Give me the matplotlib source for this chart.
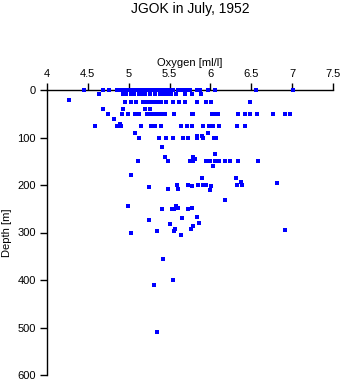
import matplotlib
matplotlib.use("Agg")
import matplotlib.pyplot as plt

## Oxygen profile values, grouped by depth
depth_0 = [4.45, 4.69, 4.76, 4.86, 4.90, 4.93, 4.96, 4.99, 5.00, 5.03, 5.06, 5.10,
           5.14, 5.17, 5.20, 5.23, 5.26, 5.30, 5.33, 5.36, 5.40, 5.43, 5.46, 5.50,
           5.54, 5.60, 5.65, 5.70, 5.75, 5.83, 5.87, 5.97, 6.05, 6.56, 7.01]
depth_9 = [4.64, 4.93, 4.97, 5.03, 5.07, 5.13, 5.15, 5.20, 5.26, 5.32, 5.38, 5.43,
           5.48, 5.52, 5.58, 5.69, 5.77, 5.89]
depth_26 = [4.96, 5.03, 5.09, 5.18, 5.22, 5.26, 5.30, 5.35, 5.40, 5.46, 5.54, 5.62,
            5.69, 5.83, 5.95, 6.01, 6.48]
depth_50 = [4.75, 4.92, 4.99, 5.08, 5.13, 5.22, 5.27, 5.32, 5.37, 5.40, 5.44, 5.56,
            5.77, 5.79, 6.02, 6.07, 6.09, 6.34, 6.42, 6.49, 6.57, 6.77, 6.91, 6.97]
depth_76 = [4.59, 4.86, 4.91, 5.15, 5.27, 5.32, 5.39, 5.64, 5.71, 5.77, 5.91, 5.98,
            6.03, 6.11, 6.32, 6.42]
depth_102 = [5.12, 5.37, 5.46, 5.54, 5.66, 5.73, 5.83, 5.91, 6.04, 6.07]
depth_150 = [5.11, 5.48, 5.75, 5.79, 5.94, 5.99, 6.05, 6.11, 6.18, 6.24, 6.34, 6.58]
depth_200 = [5.59, 5.73, 5.91, 6.33, 6.39, 5.77, 6.01, 5.85, 5.94, 6.38, 6.81,
             5.25, 5.48, 5.60, 6.00]
depth_200_d = [201, 201, 201, 201, 201, 203, 203, 199, 199, 194, 196,
               205, 208, 208, 211]

# scattered single casts
other_ox = [4.27, 4.68, 4.93, 5.20, 5.26, 4.82, 4.89, 5.97, 5.08, 5.84, 5.90,
            5.41, 6.06, 5.44, 5.79, 5.81, 6.03, 5.03, 5.90, 6.31, 6.18,
            4.99, 5.58, 5.41, 5.53, 5.55, 5.73, 5.60, 5.77,
            5.25, 5.65, 5.84, 5.51, 5.86,
            5.03, 5.35, 5.56, 5.57, 5.76, 5.64, 5.79, 6.91,
            5.42, 5.54, 5.31, 5.35]
other_d = [22, 41, 41, 41, 41, 61, 72, 90, 91, 97, 97,
           120, 135, 140, 140, 145, 159, 179, 185, 185, 232,
           244, 245, 251, 251, 251, 251, 249, 249,
           274, 270, 267, 282, 280,
           300, 296, 296, 292, 292, 305, 287, 294,
           356, 400, 411, 510]

oxygen = (depth_0 + depth_9 + depth_26 + depth_50 + depth_76 + depth_102
          + depth_150 + depth_200 + other_ox)
depth = ([0] * len(depth_0) + [9] * len(depth_9) + [26] * len(depth_26)
         + [50] * len(depth_50) + [76] * len(depth_76) + [102] * len(depth_102)
         + [150] * len(depth_150) + depth_200_d + other_d)

x_ticks = [4, 4.5, 5, 5.5, 6, 6.5, 7, 7.5]
y_ticks = [0, 100, 200, 300, 400, 500, 600]

plt.rcParams['font.family'] = ['Liberation Sans', 'DejaVu Sans']

fig = plt.figure(figsize=(3.43, 3.84), dpi=100)
ax = fig.add_axes([47 / 343, 9 / 384, 286 / 343, 285 / 384])

ax.plot(oxygen, depth, linestyle="none", marker="s", markersize=2.2,
        markeredgewidth=0, color="#0000ff", clip_on=False, zorder=3)

ax.set_xlim(4, 7.5)
ax.set_ylim(600, 0)
ax.set_xticks(x_ticks)
ax.set_xticklabels(["4", "4.5", "5", "5.5", "6", "6.5", "7", "7.5"])
ax.set_yticks(y_ticks)

ax.xaxis.tick_top()
ax.xaxis.set_label_position("top")
ax.spines["right"].set_visible(False)
ax.spines["bottom"].set_visible(False)
for s in ["left", "top"]:
    ax.spines[s].set_linewidth(1.0)
ax.tick_params(axis="both", direction="out", length=5, width=1.0,
               labelsize=8, pad=3)

ax.set_xlabel("Oxygen [ml/l]", fontsize=8, labelpad=2)
ax.set_ylabel("Depth [m]", fontsize=8, labelpad=4)
fig.text(190 / 343, 1 - 9 / 384, "JGOK in July, 1952", ha="center",
         va="center", fontsize=10)

fig.savefig("out.png", dpi=100)
